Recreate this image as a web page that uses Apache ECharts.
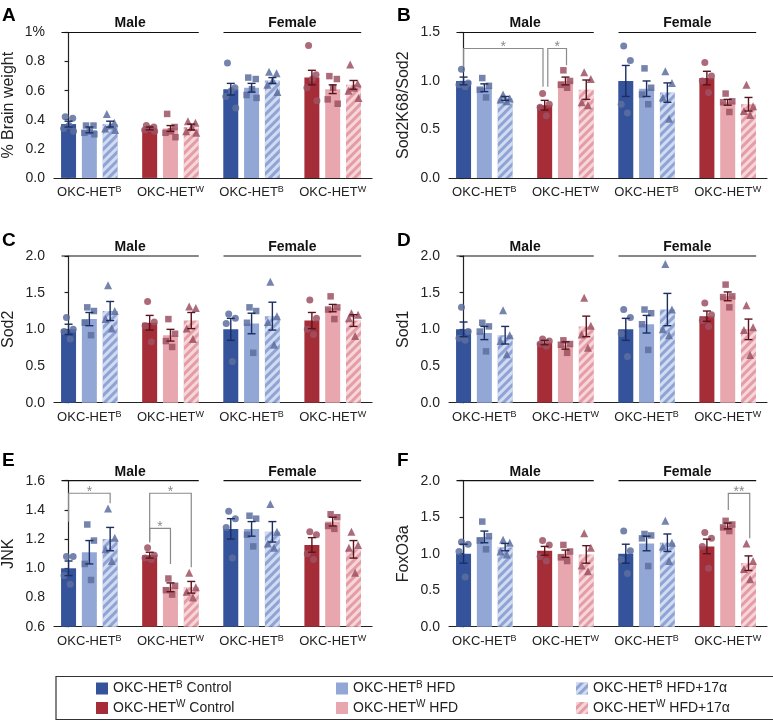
<!DOCTYPE html>
<html>
<head>
<meta charset="utf-8">
<script src="https://cdn.jsdelivr.net/npm/echarts@6/dist/echarts.min.js"></script>
<style>
html, body { margin: 0; padding: 0; background: #fff; }
#chart { width: 773px; height: 721px; }
</style>
</head>
<body>
<div id="chart"></div>
<script>
// every panel: Male B, Male W, Female B, Female W; each with Control, HFD, HFD+17a
const treatments = ['B|Control', 'B|HFD', 'B|HFD+17α', 'W|Control', 'W|HFD', 'W|HFD+17α'];
const groupLabels = ['B', 'W', 'B', 'W'];
const sexLabels = ['Male', 'Female'];

// A: % brain weight
const brainMean = [0.37, 0.33, 0.37, 0.34, 0.34, 0.35, 0.61, 0.62, 0.67, 0.69, 0.61, 0.64];
const brainSem = [0.02, 0.02, 0.02, 0.01, 0.02, 0.02, 0.04, 0.03, 0.02, 0.05, 0.03, 0.03];
const brainPts = [
    [0.42, 0.41, 0.36, 0.34, 0.32], [0.36, 0.36, 0.32, 0.31, 0.30], [0.44, 0.38, 0.36, 0.34, 0.33],
    [0.36, 0.35, 0.34, 0.33, 0.32], [0.44, 0.35, 0.32, 0.31, 0.28], [0.39, 0.38, 0.35, 0.32, 0.31],
    [0.79, 0.62, 0.60, 0.56, 0.48], [0.69, 0.68, 0.61, 0.57, 0.55], [0.73, 0.72, 0.67, 0.64, 0.59],
    [0.91, 0.71, 0.68, 0.62, 0.53], [0.70, 0.68, 0.62, 0.54, 0.51], [0.78, 0.65, 0.62, 0.60, 0.55]
];

// B: Sod2K68/Sod2
const sod2k68Mean = [1.00, 0.93, 0.82, 0.75, 1.00, 0.91, 1.00, 0.92, 0.88, 1.03, 0.78, 0.76];
const sod2k68Sem = [0.04, 0.04, 0.02, 0.05, 0.04, 0.10, 0.16, 0.08, 0.10, 0.07, 0.03, 0.07];
const sod2k68Pts = [
    [1.12, 0.98, 0.96, 0.94], [1.03, 0.95, 0.91, 0.83], [0.86, 0.82, 0.81, 0.79],
    [0.87, 0.76, 0.73, 0.64], [1.11, 1.00, 0.96, 0.93], [1.09, 1.02, 0.78, 0.75],
    [1.36, 1.21, 0.76, 0.67], [1.13, 0.93, 0.86, 0.76], [1.10, 0.98, 0.83, 0.61],
    [1.19, 1.05, 1.00, 0.88], [0.87, 0.79, 0.78, 0.68], [0.96, 0.74, 0.69, 0.65]
];
const sod2k68Brackets = [[0, 3.82, 1.335, 1.145, 0.94], [4.05, 4.95, 1.335, 0.94, 1.163]];
const sod2k68Stars = ['*', '*'];

// C: Sod2
const sod2Mean = [1.00, 1.14, 1.25, 1.09, 0.92, 1.12, 1.00, 1.08, 1.18, 1.12, 1.29, 1.12];
const sod2Sem = [0.07, 0.09, 0.13, 0.10, 0.08, 0.11, 0.15, 0.14, 0.19, 0.11, 0.05, 0.08];
const sod2Pts = [
    [1.16, 1.00, 0.97, 0.87], [1.30, 1.25, 1.09, 0.92], [1.60, 1.25, 1.14, 1.01],
    [1.38, 1.10, 1.05, 0.83], [1.14, 0.94, 0.84, 0.76], [1.31, 1.29, 1.01, 0.87],
    [1.21, 1.15, 1.08, 0.56], [1.30, 1.25, 1.09, 0.68], [1.65, 1.18, 1.10, 0.79],
    [1.40, 1.15, 1.00, 0.93], [1.45, 1.30, 1.27, 1.14], [1.22, 1.20, 1.15, 0.91]
];

// D: Sod1
const sod1Mean = [1.00, 0.95, 0.92, 0.82, 0.78, 1.04, 1.00, 1.07, 1.27, 1.18, 1.45, 1.00];
const sod1Sem = [0.10, 0.09, 0.12, 0.03, 0.05, 0.14, 0.15, 0.12, 0.22, 0.07, 0.06, 0.14];
const sod1Pts = [
    [1.30, 0.97, 0.88, 0.85], [1.09, 1.04, 0.97, 0.70], [1.26, 0.92, 0.84, 0.66],
    [0.87, 0.84, 0.80, 0.77], [0.85, 0.80, 0.79, 0.68], [1.43, 1.05, 0.93, 0.75],
    [1.27, 1.16, 0.94, 0.63], [1.27, 1.22, 1.07, 0.72], [1.89, 1.27, 1.00, 0.92],
    [1.36, 1.20, 1.12, 1.04], [1.61, 1.45, 1.44, 1.30], [1.33, 1.03, 0.99, 0.65]
];

// E: JNK
const jnkMean = [1.00, 1.11, 1.20, 1.09, 0.87, 0.87, 1.27, 1.27, 1.25, 1.16, 1.32, 1.13];
const jnkSem = [0.05, 0.08, 0.08, 0.02, 0.03, 0.04, 0.07, 0.05, 0.07, 0.05, 0.03, 0.06];
const jnkPts = [
    [1.08, 1.08, 0.95, 0.89], [1.30, 1.19, 1.03, 0.92], [1.41, 1.21, 1.13, 1.05],
    [1.14, 1.09, 1.07, 1.06], [0.93, 0.88, 0.85, 0.82], [0.97, 0.87, 0.84, 0.80],
    [1.39, 1.34, 1.28, 1.07], [1.36, 1.34, 1.23, 1.15], [1.44, 1.25, 1.17, 1.14],
    [1.25, 1.23, 1.10, 1.06], [1.37, 1.35, 1.29, 1.27], [1.25, 1.16, 1.14, 0.97]
];
const jnkBrackets = [[0, 2, 1.514, 1.319, 1.445], [3.9, 5.9, 1.514, 1.177, 1.008], [3.9, 4.9, 1.274, 1.185, 1.03]];
const jnkStars = ['*', '*', '*'];

// F: FoxO3a
const foxo3aMean = [1.00, 1.23, 1.09, 1.04, 1.00, 0.99, 1.00, 1.14, 1.15, 1.10, 1.38, 0.87];
const foxo3aSem = [0.13, 0.08, 0.05, 0.06, 0.05, 0.12, 0.13, 0.10, 0.12, 0.10, 0.04, 0.10];
const foxo3aPts = [
    [1.16, 1.13, 1.03, 0.68], [1.44, 1.24, 1.18, 1.06], [1.19, 1.15, 1.03, 0.99],
    [1.18, 1.12, 0.96, 0.90], [1.12, 1.03, 0.95, 0.90], [1.28, 1.08, 0.84, 0.76],
    [1.31, 1.04, 0.92, 0.73], [1.27, 1.25, 1.21, 0.83], [1.45, 1.15, 1.10, 0.90],
    [1.29, 1.21, 1.10, 0.80], [1.45, 1.40, 1.36, 1.31], [1.14, 0.90, 0.79, 0.65]
];
const foxo3aBrackets = [[12.73, 13.76, 1.827, 1.599, 1.211]];
const foxo3aStars = ['**'];

const panels = [
    { letter: 'A', name: '% Brain weight', min: 0, max: 1, interval: 0.2, mean: brainMean, sem: brainSem, pts: brainPts, br: [], stars: [] },
    { letter: 'B', name: 'Sod2K68/Sod2', min: 0, max: 1.5, interval: 0.5, mean: sod2k68Mean, sem: sod2k68Sem, pts: sod2k68Pts, br: sod2k68Brackets, stars: sod2k68Stars },
    { letter: 'C', name: 'Sod2', min: 0, max: 2, interval: 0.5, mean: sod2Mean, sem: sod2Sem, pts: sod2Pts, br: [], stars: [] },
    { letter: 'D', name: 'Sod1', min: 0, max: 2, interval: 0.5, mean: sod1Mean, sem: sod1Sem, pts: sod1Pts, br: [], stars: [] },
    { letter: 'E', name: 'JNK', min: 0.6, max: 1.6, interval: 0.2, mean: jnkMean, sem: jnkSem, pts: jnkPts, br: jnkBrackets, stars: jnkStars },
    { letter: 'F', name: 'FoxO3a', min: 0, max: 2, interval: 0.5, mean: foxo3aMean, sem: foxo3aSem, pts: foxo3aPts, br: foxo3aBrackets, stars: foxo3aStars }
];

// layout
const FONT = '"Liberation Sans", Arial, Helvetica, sans-serif';
const gridLeft = [54, 449];
const gridTop = [32.5, 256, 480.7];
const gridHeight = [145.4, 146.7, 146];
const GRID_W = 318;
const X_MIN = -0.70, X_MAX = 14.59;
const GROUP_STEP = 3.9;
const sexSpans = [[-0.34, 6.26], [7.45, 14.07]];
const labelValues = [1, 1 + GROUP_STEP, 1 + 2 * GROUP_STEP, 1 + 3 * GROUP_STEP];
const jitter4 = [-0.1, 0.22, -0.22, 0.08];
const jitter5 = [-0.16, 0.2, 0.02, -0.24, 0.24];

const barColors = ['#34539b', '#93a7d7', '#8fa4d6', '#a52d37', '#e8a7ae', '#e59ca5'];
const hatched = [false, false, true, false, false, true];
const pointColors = ['#5d6e9f', '#9d5163'];
const errColors = ['#1a2e62', '#5a141c'];
const symbols = ['circle', 'rect', 'triangle'];
const symbolSizes = [7, 6.5, 8];

const stripe = {
    symbol: 'rect', symbolSize: 1,
    dashArrayX: [1, 0], dashArrayY: [3, 3],
    rotation: -Math.PI / 4,
    color: 'rgba(255,255,255,0.6)'
};

const xOf = i => Math.floor(i / 3) * GROUP_STEP + (i % 3);

const superRich = {
    a: { fontSize: 13, lineHeight: 16, color: '#222', fontFamily: FONT },
    s: { fontSize: 9, verticalAlign: 'top', color: '#222', fontFamily: FONT }
};

function renderErr(params, api) {
    const x = api.value(0), m = api.value(1), e = api.value(2);
    const top = api.coord([x, m + e]);
    const bot = api.coord([x, m - e]);
    const st = { stroke: errColors[api.value(3)], lineWidth: 1.4 };
    const w = 4;
    return {
        type: 'group',
        children: [
            { type: 'line', shape: { x1: top[0], y1: top[1], x2: bot[0], y2: bot[1] }, style: st },
            { type: 'line', shape: { x1: top[0] - w, y1: top[1], x2: top[0] + w, y2: top[1] }, style: st },
            { type: 'line', shape: { x1: bot[0] - w, y1: bot[1], x2: bot[0] + w, y2: bot[1] }, style: st }
        ]
    };
}

function renderSex(params, api) {
    const a = api.coord([api.value(0), api.value(2)]);
    const b = api.coord([api.value(1), api.value(2)]);
    return {
        type: 'group',
        children: [
            { type: 'line', shape: { x1: a[0], y1: a[1], x2: b[0], y2: b[1] }, style: { stroke: '#111', lineWidth: 1.2 } },
            {
                type: 'text', x: (a[0] + b[0]) / 2, y: a[1] - 2,
                style: {
                    text: sexLabels[params.dataIndex], fill: '#111', font: 'bold 14px ' + FONT,
                    align: 'center', verticalAlign: 'bottom', textAlign: 'center', textVerticalAlign: 'bottom'
                }
            }
        ]
    };
}

function makeBracketRenderer(stars) {
    return function (params, api) {
        const x1 = api.value(0), x2 = api.value(1), top = api.value(2);
        const p1 = api.coord([x1, api.value(3)]);
        const p2 = api.coord([x1, top]);
        const p3 = api.coord([x2, top]);
        const p4 = api.coord([x2, api.value(4)]);
        return {
            type: 'group',
            children: [
                { type: 'polyline', shape: { points: [p1, p2, p3, p4] }, style: { stroke: '#8a8a8a', lineWidth: 1.2, fill: null } },
                {
                    type: 'text', x: (p2[0] + p3[0]) / 2, y: p2[1] - 1,
                    style: {
                        text: stars[params.dataIndex], fill: '#8a8a8a', font: '14px ' + FONT,
                        align: 'center', verticalAlign: 'middle', textAlign: 'center', textVerticalAlign: 'middle'
                    }
                }
            ]
        };
    };
}

const grids = [], xAxes = [], yAxes = [], series = [], graphics = [];

panels.forEach((p, k) => {
    const col = k % 2, row = Math.floor(k / 2);
    grids.push({ left: gridLeft[col], top: gridTop[row], width: GRID_W, height: gridHeight[row], outerBoundsMode: 'none' });

    xAxes.push({
        gridIndex: k, type: 'value', min: X_MIN, max: X_MAX,
        axisLine: { show: true, onZero: false, lineStyle: { color: '#222', width: 1.2 } },
        axisTick: { show: false },
        splitLine: { show: false },
        axisLabel: {
            customValues: labelValues, margin: 7,
            formatter: v => '{a|OKC-HET}{s|' + groupLabels[Math.round((v - 1) / GROUP_STEP)] + '}',
            rich: superRich
        }
    });

    yAxes.push({
        gridIndex: k, type: 'value', min: p.min, max: p.max, interval: p.interval,
        name: p.name, nameLocation: 'middle', nameGap: 37, nameMoveOverlap: false,
        nameTextStyle: { fontSize: 16, color: '#222', fontFamily: FONT },
        axisLine: { show: true, lineStyle: { color: '#222', width: 1.2 } },
        axisTick: { show: true, length: 4, lineStyle: { color: '#222', width: 1.2 } },
        splitLine: { show: false },
        axisLabel: {
            fontSize: 14, color: '#222', margin: 9, fontFamily: FONT,
            formatter: v => (k === 0 && Math.abs(v - 1) < 1e-9) ? '1%' : v.toFixed(1)
        }
    });

    // bars, one series per treatment, overlaid at their own x
    treatments.forEach((t, ti) => {
        const idx = [ti, ti + 6];
        series.push({
            type: 'bar', name: t, xAxisIndex: k, yAxisIndex: k,
            barWidth: 15, barGap: '-100%', silent: true, z: 2,
            itemStyle: Object.assign({ color: barColors[ti] }, hatched[ti] ? { decal: stripe } : {}),
            data: idx.map(i => [xOf(i), p.mean[i]])
        });
    });

    // individual animals
    treatments.forEach((t, ti) => {
        const data = [];
        [ti, ti + 6].forEach(i => {
            const jit = p.pts[i].length === 5 ? jitter5 : jitter4;
            p.pts[i].forEach((v, j) => data.push([xOf(i) + jit[j], v]));
        });
        series.push({
            type: 'scatter', xAxisIndex: k, yAxisIndex: k, silent: true, z: 3,
            symbol: symbols[ti % 3], symbolSize: symbolSizes[ti % 3],
            itemStyle: { color: pointColors[Math.floor(ti / 3)], opacity: 0.85 },
            data: data
        });
    });

    // mean +/- SEM
    series.push({
        type: 'custom', xAxisIndex: k, yAxisIndex: k, silent: true, z: 4, clip: false,
        renderItem: renderErr,
        data: p.mean.map((m, i) => [xOf(i), m, p.sem[i], Math.floor(i / 3) % 2])
    });

    // Male / Female headers
    series.push({
        type: 'custom', xAxisIndex: k, yAxisIndex: k, silent: true, z: 5, clip: false,
        renderItem: renderSex,
        data: sexSpans.map(s => [s[0], s[1], p.max])
    });

    if (p.br.length) {
        series.push({
            type: 'custom', xAxisIndex: k, yAxisIndex: k, silent: true, z: 5, clip: false,
            renderItem: makeBracketRenderer(p.stars),
            data: p.br
        });
    }

    graphics.push({
        type: 'text', left: col === 0 ? 2 : 397, top: [6, 231, 451][row],
        style: { text: p.letter, font: 'bold 19px ' + FONT, fill: '#000' }
    });
});

// legend frame
graphics.push({
    type: 'rect', left: 53.5, top: 674,
    shape: { width: 718, height: 43 },
    style: { fill: 'none', stroke: '#333', lineWidth: 1.2 }
});

const legends = treatments.map((t, ti) => ({
    data: [t], left: 96 + (ti % 3) * 240, top: ti < 3 ? 680 : 699.5,
    icon: 'rect', itemWidth: 12, itemHeight: 12, padding: 0, itemGap: 0,
    selectedMode: false,
    formatter: n => {
        const parts = n.split('|');
        return '{a|OKC-HET}{s|' + parts[0] + '}{a| ' + parts[1] + '}';
    },
    textStyle: {
        rich: {
            a: { fontSize: 14, lineHeight: 17, color: '#222', fontFamily: FONT },
            s: { fontSize: 10, verticalAlign: 'top', color: '#222', fontFamily: FONT }
        }
    }
}));

const chart = echarts.init(document.getElementById('chart'));
chart.setOption({
    animation: false,
    backgroundColor: '#fff',
    textStyle: { fontFamily: FONT },
    grid: grids,
    xAxis: xAxes,
    yAxis: yAxes,
    legend: legends,
    graphic: graphics,
    series: series
});
</script>
</body>
</html>
